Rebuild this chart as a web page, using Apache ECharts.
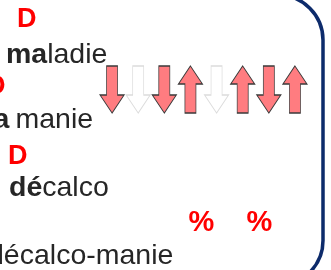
<!DOCTYPE html>
<html><head><meta charset="utf-8">
<script src="https://cdn.jsdelivr.net/npm/echarts@6/dist/echarts.min.js"></script>
<style>html,body{margin:0;padding:0;background:#fff;overflow:hidden}#c{width:331px;height:270px}</style>
</head><body><div id="c"></div>
<script>
// ---- data ----
const arrowSlots = ['a1','a2','a3','a4','a5','a6','a7','a8'];
const arrowDirections = [-1, -1, -1, 1, -1, 1, -1, 1];   // 1 = up, -1 = down
const arrowHighlighted = [1, 0, 1, 1, 0, 1, 1, 1];        // 1 = red, 0 = faded
const redLetters = ['D', 'D', 'D'];
const boldParts = ['ma', 'a', 'dé'];
const plainParts = ['ladie', 'manie', 'calco'];
const lastWord = 'décalco-manie';
const percentLabels = ['%', '%'];

// ---- layout / style ----
const FONT = "'Liberation Sans', Arial, sans-serif";
const TXT = '#262626';
const RED = '#ff0000';
const ARROW = 'path://M12,0 L24,18 L17.5,18 L17.5,47 L6.5,47 L6.5,18 L0,18 Z';
const WS = 28.5;
const BASE = 0.25;

const chart = echarts.init(document.getElementById('c'), null, {renderer: 'canvas'});

function txt(text, x, baseline, size, weight, color) {
  return {
    type: 'text', x: x, y: baseline - size * BASE,
    style: {text: text, font: weight + ' ' + size + 'px ' + FONT, fill: color, verticalAlign: 'middle', align: 'left'}
  };
}

const dPos = [[17, 26], [-14, 93], [8, 163]];
const wordPos = [[6, 62], [-6.5, 127], [9, 195]];
const plainOffset = [null, 15.5, null];
const graphics = [];
redLetters.forEach((t, i) => graphics.push(txt(t, dPos[i][0], dPos[i][1], 27, 'bold', RED)));
boldParts.forEach((b, i) => {
  if (plainOffset[i] === null) {
    graphics.push({
      type: 'text', x: wordPos[i][0], y: wordPos[i][1] - WS * BASE,
      style: {
        text: '{b|' + b + '}{r|' + plainParts[i] + '}', verticalAlign: 'middle',
        rich: {
          b: {font: 'bold ' + WS + 'px ' + FONT, fill: TXT, color: TXT},
          r: {font: 'normal ' + WS + 'px ' + FONT, fill: TXT, color: TXT}
        }
      }
    });
  } else {
    graphics.push(txt(b, wordPos[i][0], wordPos[i][1], WS, 'bold', TXT));
    graphics.push(txt(plainParts[i], plainOffset[i], wordPos[i][1], WS, 'normal', TXT));
  }
});
graphics.push(txt(lastWord, -12, 263, WS, 'normal', TXT));
const pctX = [188.5, 246.5];
percentLabels.forEach((p, i) => graphics.push(txt(p, pctX[i], 230, 29, 'bold', RED)));
graphics.push({
  type: 'rect', shape: {x: -500, y: -5, width: 823, height: 290.5, r: 45},
  style: {fill: 'none', stroke: '#0d2b6b', lineWidth: 3.5}
});

chart.setOption({
  animation: false,
  backgroundColor: '#ffffff',
  grid: {left: 99, width: 209, top: 66, height: 47},
  xAxis: {type: 'category', data: arrowSlots, show: false},
  yAxis: {type: 'category', data: ['row'], show: false},
  series: [{
    type: 'scatter',
    symbol: ARROW,
    symbolSize: [24, 47],
    data: arrowDirections.map((d, i) => ({
      value: [i, 0],
      symbolRotate: d > 0 ? 0 : 180,
      itemStyle: arrowHighlighted[i]
        ? {color: '#ff7c80', borderColor: '#3a3a3a', borderWidth: 1, opacity: 1}
        : {color: '#ffffff', borderColor: '#dcdcdc', borderWidth: 1, opacity: 1}
    })),
    silent: true
  }],
  graphic: graphics
});
</script></body></html>
